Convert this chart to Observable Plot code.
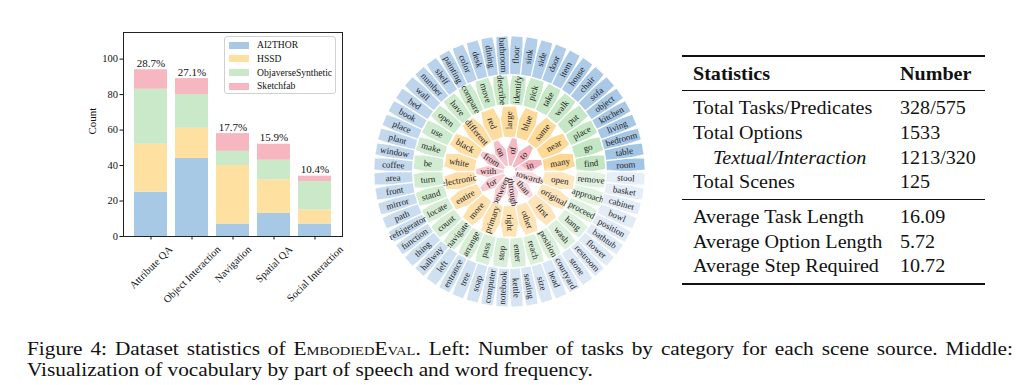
<!DOCTYPE html>
<html><head><meta charset="utf-8">
<script src="https://cdn.jsdelivr.net/npm/d3@7"></script>
<script src="https://cdn.jsdelivr.net/npm/@observablehq/plot@0.6"></script>
<style>
body{margin:0;background:#fff;}
#page{position:relative;width:1026px;height:385px;overflow:hidden;font-family:"Liberation Serif","Times New Roman",serif;color:#111;}
.abs{position:absolute;}
.legend{position:absolute;left:224px;top:36px;width:112px;height:58px;border:1px solid #d0d0d0;border-radius:3px;background:rgba(255,255,255,0.85);box-sizing:border-box;font-size:9.6px;}
.legend .item{position:absolute;left:4px;height:14px;line-height:14px;white-space:nowrap;}
.legend .sw{position:absolute;left:0;top:3.5px;width:20px;height:7px;}
.legend .lb{position:absolute;left:28px;top:0;}
.tbl{position:absolute;font-size:19.5px;line-height:22px;white-space:nowrap;transform:scaleX(1.03);transform-origin:left center;}
.rule{position:absolute;left:682px;width:303px;background:#111;}
.caption{position:absolute;left:27px;font-size:19px;line-height:22px;white-space:nowrap;transform:scaleX(1.12);transform-origin:left center;}
.sc{font-variant:small-caps;}
</style></head><body><div id="page"></div>
<script>
// ---------- Data: bar chart ----------
const categories = ["Attribute QA","Object Interaction","Navigation","Spatial QA","Social Interaction"];
const sources = ["AI2THOR","HSSD","ObjaverseSynthetic","Sketchfab"];
const ai2thor   = [25, 44,  7, 13,  7];
const hssd      = [27, 17, 33, 19,  8];
const objaverse = [31, 19,  8, 11, 16];
const sketchfab = [11,  9, 10,  9,  3];
const percentLabels = ["28.7%","27.1%","17.7%","15.9%","10.4%"];
const yTicks = [0, 20, 40, 60, 80, 100];

// ---------- Data: vocabulary wheel (ordered by frequency) ----------
const prepositions = ["in","to","of","on","from","with","for","between","through","than","towards"];
const adjectives = ["many","near","same","blue","large","red","different","black","white","electronic","entire","more","primary","right","other","first","original","open"];
const verbs = ["find","go","place","put","walk","take","pick","identify","describe","move","compare","have","open","use","make","be","turn","stand","locate","count","navigate","arrange","pass","stop","enter","reach","position","wash","hang","proceed","approach","remove"];
const nouns = ["room","table","bedroom","living","kitchen","object","sofa","chair","house","item","door","side","sink","floor","bathroom","dining","desk","color","painting","shelf","number","wall","bed","book","place","plant","window","coffee","area","front","mirror","path","refrigerator","function","thing","hallway","left","entrance","tree","soap","computer","notebook","kettle","seating","size","head","courtyard","stone","restroom","flower","bathtub","position","bowl","cabinet","basket","stool"];

// ---------- Data: table ----------
const statHeader = ["Statistics","Number"];
const statLabels1 = ["Total Tasks/Predicates","Total Options","Textual/Interaction","Total Scenes"];
const statValues1 = ["328/575","1533","1213/320","125"];
const statLabels2 = ["Average Task Length","Average Option Length","Average Step Required"];
const statValues2 = ["16.09","5.72","10.72"];

// ---------- Styles ----------
const sourceColors = ["#a7c9e5","#fee0a0","#c9e9c9","#f6b7c1"];
const page = document.getElementById("page");
const FONT = "Liberation Serif";

// ---------- Bar chart ----------
const seriesBySource = [ai2thor, hssd, objaverse, sketchfab];
const barData = [];
categories.forEach((c, i) => seriesBySource.forEach((arr, j) => barData.push({category: c, source: sources[j], count: arr[i]})));
const totals = categories.map((c, i) => ({category: c, total: d3.sum(seriesBySource, s => s[i]), label: percentLabels[i]}));

const ctx = document.createElement("canvas").getContext("2d");
const tickFont = 10.5;
ctx.font = `${tickFont}px "${FONT}"`;
const labelMarks = categories.map(c => {
  const w = ctx.measureText(c).width;
  const half = (w + tickFont * 1.1) * Math.SQRT1_2 / 2;
  return Plot.text([c], {x: d => d, frameAnchor: "bottom", text: d => d, rotate: -45,
    textAnchor: "middle", lineAnchor: "middle", dy: 7 + half, fontSize: tickFont, fill: "#111"});
});

const barPlot = Plot.plot({
  width: 360, height: 320,
  marginLeft: 123, marginRight: 18, marginTop: 32, marginBottom: 84,
  style: {fontFamily: FONT, fontSize: "10.5px", color: "#111", background: "transparent", overflow: "visible"},
  x: {domain: categories, paddingInner: 0.2, paddingOuter: 0.21, axis: null},
  y: {domain: [0, 115], axis: null},
  color: {domain: sources, range: sourceColors},
  marks: [
    Plot.barY(barData, {x: "category", y: "count", fill: "source", order: sources}),
    Plot.text(totals, {x: "category", y: "total", text: "label", lineAnchor: "bottom", dy: -3, fontSize: 11, fill: "#111"}),
    Plot.axisY({ticks: yTicks, tickSize: 3.5, tickPadding: 2, fontSize: 10.5, label: null, color: "#111"}),
    Plot.axisX({tickSize: 3.5, tickFormat: () => "", label: null, color: "#111"}),
    Plot.frame({stroke: "#222"}),
    Plot.text(["Count"], {frameAnchor: "left", rotate: -90, dx: -31, fontSize: 11, fill: "#111"}),
    ...labelMarks
  ]
});
const barDiv = document.createElement("div");
barDiv.className = "abs"; barDiv.style.left = "0px"; barDiv.style.top = "0px";
barDiv.appendChild(barPlot);
page.appendChild(barDiv);

// legend
const legend = document.createElement("div");
legend.className = "legend";
sources.forEach((s, i) => {
  const it = document.createElement("div");
  it.className = "item"; it.style.top = (1 + i * 13.8) + "px";
  it.innerHTML = `<span class="sw" style="background:${sourceColors[i]}"></span><span class="lb">${s}</span>`;
  legend.appendChild(it);
});
page.appendChild(legend);

// ---------- Vocabulary wheel ----------
const R = 136; // outer radius in px
const rings = [
  {words: prepositions, r0: 7,    r1: 35.5, dark: "#f3b0bc", light: "#fbdce1"},
  {words: adjectives,   r0: 35.5, r1: 67,   dark: "#fdd893", light: "#fee6bd"},
  {words: verbs,        r0: 67,   r1: 97,   dark: "#c2e6c2", light: "#e1f2e1"},
  {words: nouns,        r0: 97,   r1: 136,  dark: "#a3c5e5", light: "#e6eef8"}
];
const GAP = 1.3;
const rad = Math.PI / 180;
const wheelMarks = [];
rings.forEach(ring => {
  const n = ring.words.length, step = 360 / n, rm = (ring.r0 + ring.r1) / 2 / R;
  const col = d3.interpolateRgb(ring.dark, ring.light);
  const segs = ring.words.map((w, i) => {
    const a0 = i * step, a1 = (i + 1) * step, am = (i + 0.5) * step;
    const rot = am <= 90 ? -am : am < 270 ? 180 - am : 360 - am;
    return {word: w, a0, a1, am, rot, color: col(i / (n - 1))};
  });
  wheelMarks.push(Plot.arrow(segs, {
    x1: d => rm * Math.cos(d.a0 * rad), y1: d => rm * Math.sin(d.a0 * rad),
    x2: d => rm * Math.cos(d.a1 * rad), y2: d => rm * Math.sin(d.a1 * rad),
    bend: step / 2, headLength: 0, stroke: d => d.color,
    strokeWidth: ring.r1 - ring.r0 - GAP, strokeLinecap: "butt", strokeOpacity: 1
  }));
  wheelMarks.push(Plot.link(segs, {
    x1: d => (ring.r0 - 1) / R * Math.cos(d.a0 * rad), y1: d => (ring.r0 - 1) / R * Math.sin(d.a0 * rad),
    x2: d => (ring.r1 + 1) / R * Math.cos(d.a0 * rad), y2: d => (ring.r1 + 1) / R * Math.sin(d.a0 * rad),
    stroke: "white", strokeWidth: 1.4
  }));
  wheelMarks.push(Plot.text(segs, {
    x: d => rm * Math.cos(d.am * rad), y: d => rm * Math.sin(d.am * rad),
    text: "word", rotate: "rot", fontSize: 9, fill: "#222", textAnchor: "middle", lineAnchor: "middle"
  }));
});
const wheelPlot = Plot.plot({
  width: 276, height: 276, margin: 2,
  style: {fontFamily: FONT, background: "transparent", overflow: "visible"},
  x: {domain: [-1, 1], axis: null},
  y: {domain: [-1, 1], axis: null},
  marks: wheelMarks
});
const wheelDiv = document.createElement("div");
wheelDiv.className = "abs";
wheelDiv.style.left = (508.5 - 138) + "px"; wheelDiv.style.top = (170.8 - 138) + "px";
wheelDiv.appendChild(wheelPlot);
page.appendChild(wheelDiv);

// ---------- Table ----------
function addText(txt, x, yc, extra) {
  const d = document.createElement("div");
  d.className = "tbl"; d.textContent = txt;
  d.style.left = x + "px"; d.style.top = (yc - 11) + "px";
  if (extra) Object.assign(d.style, extra);
  page.appendChild(d);
}
function addRule(y, h) {
  const d = document.createElement("div");
  d.className = "rule"; d.style.top = y + "px"; d.style.height = h + "px";
  page.appendChild(d);
}
addRule(55, 1.5);
addText(statHeader[0], 692.7, 73.5, {fontWeight: "bold"});
addText(statHeader[1], 900, 73.5, {fontWeight: "bold"});
addRule(90.3, 0.9);
const rowY1 = [108, 132.7, 157.5, 181.7];
statLabels1.forEach((t, i) => {
  addText(t, i === 2 ? 712.7 : 692.7, rowY1[i], i === 2 ? {fontStyle: "italic"} : null);
  addText(statValues1[i], 900, rowY1[i]);
});
addRule(198.9, 0.9);
const rowY2 = [216.7, 241.5, 266];
statLabels2.forEach((t, i) => {
  addText(t, 692.7, rowY2[i]);
  addText(statValues2[i], 900, rowY2[i]);
});
addRule(283.3, 1.5);

// ---------- Caption ----------
const SCALE = 1.12;
const line1 = document.createElement("div");
line1.className = "caption";
line1.style.top = (349 - 11) + "px";
line1.style.width = (986 / SCALE) + "px";
line1.style.textAlign = "justify";
line1.style.textAlignLast = "justify";
line1.innerHTML = 'Figure 4: Dataset statistics of <span class="sc">EmbodiedEval</span>. Left: Number of tasks by category for each scene source. Middle:';
page.appendChild(line1);
const line2 = document.createElement("div");
line2.className = "caption";
line2.style.top = (370 - 11) + "px";
line2.textContent = "Visualization of vocabulary by part of speech and word frequency.";
page.appendChild(line2);
</script>
</body></html>
